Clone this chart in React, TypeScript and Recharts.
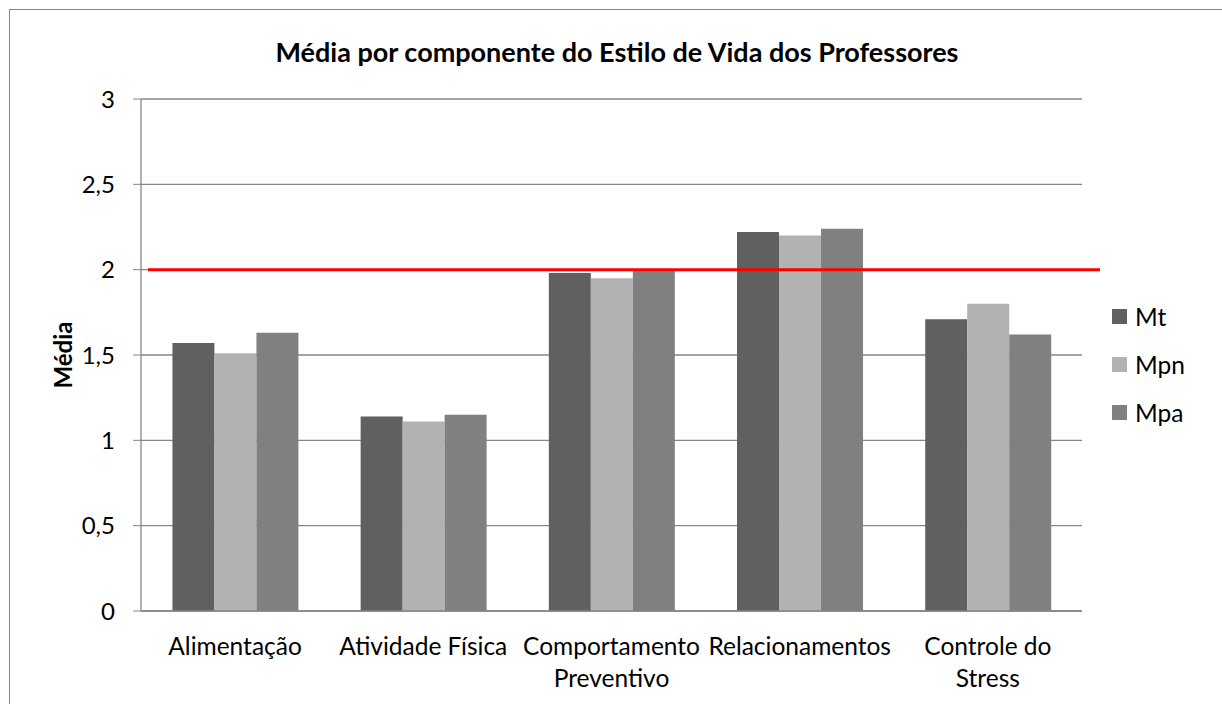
import React from 'react';
import {
  BarChart,
  Bar,
  XAxis,
  YAxis,
  CartesianGrid,
  Legend,
  ReferenceLine,
} from 'recharts';

const categories = [
  'Alimentação',
  'Atividade Física',
  'Comportamento Preventivo',
  'Relacionamentos',
  'Controle do Stress',
];
// how each category label breaks into lines under the axis
const tickLines = [
  ['Alimentação'],
  ['Atividade Física'],
  ['Comportamento', 'Preventivo'],
  ['Relacionamentos'],
  ['Controle do', 'Stress'],
];
const mt = [1.57, 1.14, 1.98, 2.22, 1.71];
const mpn = [1.51, 1.11, 1.95, 2.2, 1.8];
const mpa = [1.63, 1.15, 2.0, 2.24, 1.62];
const yTicks = [0, 0.5, 1, 1.5, 2, 2.5, 3];
const threshold = 2;

const seriesInfo = [
  { key: 'Mt', color: '#606060' },
  { key: 'Mpn', color: '#b2b2b2' },
  { key: 'Mpa', color: '#808080' },
];

const data = categories.map((name, i) => ({
  name,
  Mt: mt[i],
  Mpn: mpn[i],
  Mpa: mpa[i],
}));

const FONT = "Lato, 'Open Sans', sans-serif";
const GRID = '#868686';

function CategoryTick(props: any) {
  const { x, y, payload } = props;
  const idx = categories.indexOf(payload.value);
  const lines = tickLines[idx] || [payload.value];
  return (
    <text x={x} y={y} textAnchor="middle" fill="#000" fontFamily={FONT} fontSize={24.5}>
      {lines.map((l, i) => (
        <tspan key={i} x={x} dy={i === 0 ? 36 : 32}>
          {l}
        </tspan>
      ))}
    </text>
  );
}

function LegendBox() {
  return (
    <div style={{ fontFamily: FONT, fontSize: 24.5 }}>
      {seriesInfo.map((s) => (
        <div key={s.key} style={{ display: 'flex', alignItems: 'center', height: 48 }}>
          <span style={{ width: 15, height: 15, background: s.color, marginRight: 8 }} />
          <span>{s.key}</span>
        </div>
      ))}
    </div>
  );
}

function RedLine(props: any) {
  const { x1, x2, y1 } = props;
  return <line x1={x1 + 7} x2={x2 + 18} y1={y1} y2={y1} stroke="#ff0000" strokeWidth={3} />;
}

export default function App() {
  return (
    <div style={{ position: 'fixed', left: 0, top: 0, width: 1222, height: 704, overflow: 'hidden', background: '#fff' }}>
      <div
        style={{
          position: 'absolute',
          left: 9,
          top: 9,
          width: 1240,
          height: 720,
          border: '1px solid #868686',
        }}
      />
      <div
        style={{
          position: 'absolute',
          left: 0,
          top: 35,
          width: 1234,
          textAlign: 'center',
          fontFamily: FONT,
          fontWeight: 'bold',
          fontSize: 27,
          lineHeight: '34px',
        }}
      >
        Média por componente do Estilo de Vida dos Professores
      </div>
      <div style={{ position: 'absolute', left: 0, top: 0 }}>
        <BarChart
          width={1222}
          height={704}
          data={data}
          margin={{ top: 99, right: 40, bottom: 13, left: 40 }}
          barCategoryGap="16.7%"
          barGap={0}
        >
          <CartesianGrid vertical={false} stroke={GRID} strokeWidth={1.3} />
          <XAxis
            dataKey="name"
            tickLine={false}
            axisLine={{ stroke: GRID, strokeWidth: 1.3 }}
            tick={<CategoryTick />}
            interval={0}
            height={80}
          />
          <YAxis
            width={101}
            domain={[0, 3]}
            ticks={yTicks}
            tickSize={8}
            tickMargin={18}
            tickLine={{ stroke: GRID }}
            axisLine={{ stroke: GRID, strokeWidth: 1.3 }}
            tickFormatter={(v: number) => String(v).replace('.', ',')}
            tick={{ fill: '#000', fontFamily: FONT, fontSize: 24 }}
            label={(p: any) => (
              <text
                x={62}
                y={p.viewBox.y + p.viewBox.height / 2}
                transform={`rotate(-90, 62, ${p.viewBox.y + p.viewBox.height / 2})`}
                textAnchor="middle"
                dominantBaseline="central"
                fontFamily={FONT}
                fontWeight="bold"
                fontSize={24}
                fill="#000"
              >
                Média
              </text>
            )}
          />
          <Legend
            layout="vertical"
            align="right"
            verticalAlign="top"
            content={<LegendBox />}
            wrapperStyle={{ left: 1112, top: 292, width: 100 }}
          />
          {seriesInfo.map((s) => (
            <Bar key={s.key} dataKey={s.key} fill={s.color} isAnimationActive={false} />
          ))}
          <ReferenceLine y={threshold} ifOverflow="visible" shape={<RedLine />} />
        </BarChart>
      </div>
    </div>
  );
}
